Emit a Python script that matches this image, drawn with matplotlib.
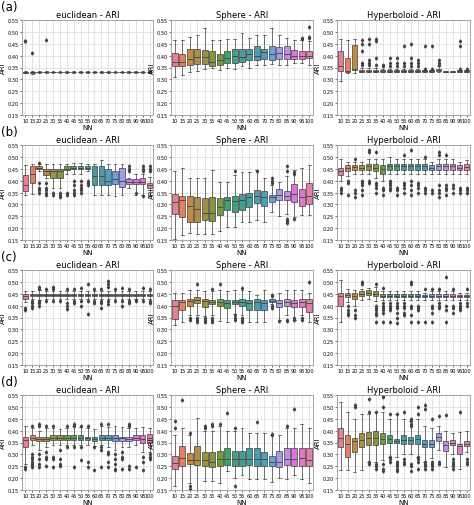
import matplotlib
matplotlib.use("Agg")
import matplotlib.pyplot as plt
import seaborn as sns

nn = [10, 15, 20, 25, 30, 35, 40, 45, 50, 55, 60, 65, 70, 75, 80, 85, 90, 95, 100]
row_labels = ["(a)", "(b)", "(c)", "(d)"]
col_titles = ["euclidean - ARI", "Sphere - ARI", "Hyperboloid - ARI"]

# ---- row (a)
a_euc_q1 = [.327, .327, .329, .329, .329, .329, .329, .329, .329, .329, .329, .329, .329, .329, .329, .329, .329, .329, .329]
a_euc_med = [.330, .330, .331, .331, .331, .331, .331, .331, .331, .331, .331, .331, .331, .331, .331, .331, .331, .331, .331]
a_euc_q3 = [.332, .332, .333, .333, .333, .333, .333, .333, .333, .333, .333, .333, .333, .333, .333, .333, .333, .333, .333]
a_euc_lo = [.325, .322, .327, .327, .327, .327, .327, .327, .327, .327, .327, .327, .327, .327, .327, .327, .327, .327, .327]
a_euc_hi = [.334, .334, .336, .335, .335, .335, .335, .335, .335, .335, .335, .335, .335, .335, .335, .335, .335, .335, .335]
a_euc_fl = {0: [.46, .462], 1: [.41], 3: [.465]}

a_sph_q1 = [.355, .355, .36, .365, .365, .355, .36, .37, .37, .375, .38, .38, .385, .38, .385, .385, .385, .385, .39]
a_sph_med = [.375, .375, .385, .395, .395, .375, .38, .39, .40, .395, .405, .40, .415, .405, .41, .405, .40, .40, .40]
a_sph_q3 = [.41, .405, .43, .43, .425, .42, .405, .42, .43, .43, .43, .44, .43, .44, .435, .44, .425, .42, .42]
a_sph_lo = [.31, .32, .33, .335, .345, .35, .34, .35, .345, .355, .35, .36, .36, .365, .36, .36, .37, .37, .36]
a_sph_hi = [.465, .465, .48, .485, .515, .465, .465, .47, .47, .495, .475, .485, .485, .515, .485, .475, .465, .465, .46]
a_sph_fl = {17: [.47, .475], 18: [.475, .48, .52]}

a_hyp_q1 = [.335, .33, .34, .333, .333, .333, .333, .333, .333, .333, .333, .333, .333, .333, .335, .332, .332, .333, .333]
a_hyp_med = [.355, .335, .345, .335, .335, .335, .335, .335, .335, .335, .335, .335, .335, .335, .338, .333, .333, .335, .335]
a_hyp_q3 = [.42, .39, .445, .34, .34, .34, .34, .34, .34, .34, .34, .34, .34, .34, .345, .334, .334, .338, .338]
a_hyp_lo = [.295, .325, .325, .33, .33, .33, .33, .33, .33, .33, .33, .33, .33, .33, .33, .33, .33, .33, .33]
a_hyp_hi = [.47, .465, .47, .35, .35, .35, .345, .345, .345, .345, .345, .345, .34, .34, .355, .336, .336, .34, .34]
a_hyp_fl = {3: [.36, .37, .42, .45, .465], 4: [.36, .37, .38, .45, .47], 5: [.36, .39, .46, .47],
            6: [.355, .36], 7: [.355, .37, .39], 8: [.355, .37, .39], 9: [.355, .37, .44],
            10: [.355, .37, .39, .45], 11: [.355, .37, .38], 12: [.345, .44], 13: [.345, .44],
            14: [.36, .37, .38], 17: [.345, .44, .46], 18: [.342]}

# ---- row (b)
b_euc_q1 = [.355, .39, .45, .425, .41, .41, .445, .45, .45, .45, .38, .38, .38, .385, .375, .385, .385, .385, .37]
b_euc_med = [.38, .43, .455, .44, .44, .44, .45, .455, .455, .455, .42, .42, .40, .405, .40, .395, .395, .395, .38]
b_euc_q3 = [.425, .46, .46, .45, .45, .45, .46, .46, .46, .46, .46, .46, .45, .44, .455, .405, .405, .41, .39]
b_euc_lo = [.34, .345, .44, .41, .37, .37, .43, .43, .43, .44, .34, .34, .34, .335, .34, .37, .34, .34, .335]
b_euc_hi = [.465, .47, .47, .47, .47, .47, .47, .475, .475, .47, .47, .485, .47, .47, .47, .41, .43, .43, .415]
b_euc_fl = {2: [.39, .37, .36, .35, .475], 3: [.39, .37, .36, .35, .34], 4: [.35, .34], 5: [.35, .34, .33],
            6: [.35, .34], 7: [.40, .38, .36, .35, .34], 8: [.40, .38, .37, .36, .35], 9: [.40, .39, .38],
            15: [.44, .45, .46], 16: [.35], 17: [.44, .45, .46, .335], 18: [.44, .45, .46]}

b_sph_q1 = [.26, .245, .225, .225, .235, .23, .255, .275, .27, .275, .29, .305, .295, .31, .32, .32, .31, .295, .30]
b_sph_med = [.31, .32, .295, .28, .265, .265, .29, .32, .315, .32, .33, .335, .33, .33, .34, .335, .345, .33, .335]
b_sph_q3 = [.345, .335, .335, .33, .325, .33, .325, .33, .335, .345, .35, .36, .355, .34, .365, .355, .385, .365, .39]
b_sph_lo = [.155, .17, .18, .175, .175, .175, .19, .205, .205, .225, .225, .235, .225, .27, .25, .26, .245, .255, .255]
b_sph_hi = [.44, .455, .41, .41, .41, .445, .395, .395, .425, .435, .435, .445, .41, .38, .395, .42, .445, .455, .465]
b_sph_fl = {8: [.44], 11: [.44], 13: [.39, .40, .41], 15: [.22, .23, .24, .44, .46], 16: [.24, .43, .435]}

b_hyp_q1 = [.425, .44, .445, .445, .445, .44, .43, .445, .445, .445, .445, .445, .445, .445, .445, .445, .445, .445, .445]
b_hyp_med = [.44, .455, .458, .455, .46, .455, .45, .46, .46, .46, .462, .46, .46, .455, .46, .46, .46, .455, .458]
b_hyp_q3 = [.455, .465, .465, .465, .47, .47, .465, .47, .47, .47, .47, .47, .47, .465, .47, .47, .47, .465, .468]
b_hyp_lo = [.40, .42, .43, .43, .43, .41, .40, .43, .43, .43, .43, .43, .43, .43, .43, .43, .43, .43, .43]
b_hyp_hi = [.49, .48, .48, .48, .49, .49, .49, .50, .49, .49, .49, .49, .49, .48, .49, .49, .49, .48, .485]
b_hyp_fl = {0: [.35, .36, .37], 1: [.34, .39, .40], 2: [.33, .35, .36, .49], 3: [.34, .36, .38, .39, .40],
            4: [.39, .40, .52, .53], 5: [.35, .37, .38, .39, .52], 6: [.34, .36, .37],
            7: [.36, .37, .38, .39, .40], 8: [.34, .36, .37], 9: [.35, .37, .38, .39, .51],
            10: [.34, .36, .38, .40, .53], 11: [.35, .37, .38, .39], 12: [.35, .36, .37, .50],
            13: [.35, .36], 14: [.33, .35, .36, .38, .51, .52], 15: [.34, .36, .37, .38, .51],
            16: [.35, .37, .38], 17: [.35, .36, .37], 18: [.35, .36, .37]}

# ---- row (c)
c_euc_q1 = [.43, .44, .44, .44, .44, .44, .44, .44, .44, .44, .44, .44, .44, .44, .44, .44, .44, .44, .44]
c_euc_med = [.44, .445, .445, .445, .445, .445, .445, .445, .445, .445, .445, .445, .445, .445, .445, .445, .445, .445, .445]
c_euc_q3 = [.45, .45, .45, .45, .45, .45, .45, .45, .45, .45, .45, .45, .45, .45, .45, .45, .45, .45, .45]
c_euc_lo = [.415, .43, .425, .43, .43, .43, .43, .43, .43, .43, .43, .43, .43, .43, .43, .43, .43, .43, .43]
c_euc_hi = [.46, .46, .465, .46, .46, .46, .46, .46, .46, .46, .46, .46, .46, .46, .46, .46, .46, .46, .46]
c_euc_fl = {0: [.38, .385, .39], 1: [.39, .40, .41, .42], 2: [.40, .41, .42, .47, .48], 3: [.42, .47],
            4: [.42, .47, .48], 5: [.42], 6: [.385, .40, .41, .47], 7: [.41, .42, .47],
            8: [.40, .42, .475], 9: [.365, .42, .49], 10: [.41, .42, .47], 11: [.39, .41, .42, .47],
            12: [.405, .42, .48, .49, .505], 13: [.42, .47], 14: [.40, .42, .475], 15: [.41, .42, .47],
            16: [.42, .425], 17: [.42, .475], 18: [.41, .42, .47]}

c_sph_q1 = [.345, .38, .40, .41, .395, .405, .40, .39, .405, .40, .38, .38, .38, .415, .395, .40, .395, .395, .375]
c_sph_med = [.40, .415, .42, .425, .42, .415, .415, .41, .415, .415, .41, .415, .41, .42, .41, .415, .41, .415, .41]
c_sph_q3 = [.425, .425, .43, .435, .43, .425, .43, .425, .425, .43, .425, .43, .425, .43, .425, .43, .425, .43, .43]
c_sph_lo = [.32, .33, .36, .36, .355, .36, .335, .33, .365, .36, .33, .33, .33, .405, .34, .36, .34, .36, .33]
c_sph_hi = [.455, .455, .465, .465, .46, .46, .465, .46, .465, .465, .46, .445, .465, .43, .455, .465, .465, .465, .455]
c_sph_fl = {2: [.35, .34], 3: [.35, .34, .33, .49], 4: [.35, .34, .33], 5: [.35, .34, .33, .47],
            6: [.49], 8: [.36, .35, .34], 9: [.35, .34, .33, .475], 13: [.39, .40, .44, .445],
            14: [.335], 15: [.34, .335], 16: [.35, .34], 17: [.35, .34], 18: [.50]}

c_hyp_q1 = [.40, .435, .43, .44, .445, .44, .435, .435, .435, .435, .435, .435, .435, .435, .435, .435, .435, .435, .435]
c_hyp_med = [.44, .445, .44, .45, .455, .45, .44, .44, .44, .44, .44, .44, .44, .44, .44, .44, .44, .44, .44]
c_hyp_q3 = [.455, .455, .455, .46, .465, .46, .45, .45, .45, .45, .45, .45, .445, .45, .45, .45, .45, .445, .445]
c_hyp_lo = [.33, .415, .40, .425, .43, .42, .425, .425, .425, .425, .425, .425, .425, .425, .425, .425, .425, .425, .425]
c_hyp_hi = [.51, .47, .465, .47, .475, .48, .46, .46, .46, .46, .46, .46, .455, .46, .46, .46, .46, .455, .455]
c_hyp_fl = {1: [.36, .37, .38, .40], 2: [.35, .36, .38], 3: [.49, .50], 5: [.33, .36, .37, .38, .39, .40, .49],
            6: [.33, .37, .38, .39, .40, .41, .475], 7: [.33, .38, .39, .40, .41],
            8: [.325, .35, .37, .39, .40, .41], 9: [.36, .37, .39, .40, .41], 10: [.33, .36, .39, .40, .49, .50],
            11: [.33, .38, .39, .40], 12: [.33, .47], 13: [.33, .37, .39, .40, .47],
            14: [.39, .40, .41, .47], 15: [.33, .38, .40, .52], 16: [.37, .39, .40, .47],
            17: [.38, .39, .40, .41], 18: [.40, .41, .47]}

# ---- row (d)
d_euc_q1 = [.33, .36, .355, .355, .36, .36, .36, .36, .36, .36, .355, .36, .36, .355, .355, .355, .36, .35, .35]
d_euc_med = [.36, .37, .365, .365, .37, .37, .37, .37, .37, .37, .365, .37, .37, .37, .37, .365, .37, .365, .37]
d_euc_q3 = [.375, .38, .375, .375, .38, .38, .38, .38, .38, .375, .375, .38, .38, .38, .375, .375, .38, .38, .385]
d_euc_lo = [.26, .34, .32, .33, .34, .34, .34, .34, .34, .34, .335, .34, .33, .32, .33, .33, .34, .31, .31]
d_euc_hi = [.42, .41, .40, .41, .41, .405, .41, .42, .415, .41, .405, .42, .415, .42, .415, .41, .41, .415, .41]
d_euc_fl = {0: [.24, .245], 1: [.245, .25, .26, .27, .28, .29, .30, .42], 2: [.245, .26, .28, .30, .42, .43],
            3: [.25, .28, .29, .31, .42], 4: [.245, .28, .29, .42], 5: [.25, .26, .28, .32],
            6: [.33, .42], 7: [.245, .33, .42, .43], 8: [.275, .33, .42], 9: [.245, .27, .42],
            10: [.235, .33], 11: [.245, .32, .33, .43], 12: [.245, .27, .30, .31, .43],
            13: [.235, .24, .26, .28, .30], 14: [.24, .28, .29, .31], 15: [.24, .25, .42, .43],
            16: [.245], 17: [.235, .27, .29], 18: [.28, .29, .30]}

d_sph_q1 = [.24, .25, .26, .255, .25, .245, .25, .255, .25, .25, .255, .25, .25, .25, .245, .255, .25, .25, .25]
d_sph_med = [.265, .285, .275, .275, .275, .27, .28, .28, .28, .28, .28, .28, .28, .27, .27, .28, .28, .285, .275]
d_sph_q3 = [.295, .335, .305, .335, .31, .31, .315, .325, .315, .315, .325, .325, .31, .295, .315, .325, .325, .325, .325]
d_sph_lo = [.165, .15, .18, .15, .19, .19, .18, .23, .20, .215, .195, .195, .195, .185, .20, .195, .215, .195, .18]
d_sph_hi = [.38, .41, .38, .455, .40, .40, .42, .40, .40, .41, .39, .39, .39, .38, .38, .41, .41, .43, .41]
d_sph_fl = {0: [.41, .44], 1: [.53], 2: [.39, .165, .155], 4: [.41, .42], 5: [.42, .43], 6: [.43],
            7: [.475], 8: [.165, .41], 11: [.435], 13: [.38, .385], 15: [.42], 16: [.49]}

d_hyp_q1 = [.33, .29, .31, .33, .34, .34, .345, .35, .35, .345, .345, .345, .33, .33, .355, .315, .34, .30, .335]
d_hyp_med = [.37, .345, .355, .36, .37, .37, .365, .365, .355, .36, .36, .365, .345, .345, .375, .34, .35, .335, .345]
d_hyp_q3 = [.41, .38, .37, .39, .395, .40, .39, .38, .365, .38, .375, .38, .36, .36, .39, .355, .36, .345, .355]
d_hyp_lo = [.235, .235, .225, .235, .27, .27, .275, .29, .29, .30, .30, .29, .27, .285, .32, .245, .30, .24, .31]
d_hyp_hi = [.52, .48, .45, .47, .47, .48, .48, .45, .47, .45, .44, .45, .42, .41, .42, .40, .39, .395, .40]
d_hyp_fl = {2: [.50, .51], 4: [.26, .27, .48, .535], 5: [.24, .25, .26, .48], 6: [.23, .24, .26, .50, .54, .545],
            7: [.27, .28, .29, .47], 8: [.23, .24, .25, .26, .27, .47], 9: [.26, .27, .28, .48],
            10: [.23, .25, .26, .42, .43, .44, .45], 11: [.24, .27, .28, .29, .47, .50],
            12: [.24, .25, .26, .27, .49, .51], 13: [.24, .25, .26, .27, .45], 14: [.26, .27, .46],
            15: [.465], 16: [.24, .25, .26, .27, .28], 17: [.48], 18: [.26, .27, .28]}

panels = [
    [(a_euc_q1, a_euc_med, a_euc_q3, a_euc_lo, a_euc_hi, a_euc_fl),
     (a_sph_q1, a_sph_med, a_sph_q3, a_sph_lo, a_sph_hi, a_sph_fl),
     (a_hyp_q1, a_hyp_med, a_hyp_q3, a_hyp_lo, a_hyp_hi, a_hyp_fl)],
    [(b_euc_q1, b_euc_med, b_euc_q3, b_euc_lo, b_euc_hi, b_euc_fl),
     (b_sph_q1, b_sph_med, b_sph_q3, b_sph_lo, b_sph_hi, b_sph_fl),
     (b_hyp_q1, b_hyp_med, b_hyp_q3, b_hyp_lo, b_hyp_hi, b_hyp_fl)],
    [(c_euc_q1, c_euc_med, c_euc_q3, c_euc_lo, c_euc_hi, c_euc_fl),
     (c_sph_q1, c_sph_med, c_sph_q3, c_sph_lo, c_sph_hi, c_sph_fl),
     (c_hyp_q1, c_hyp_med, c_hyp_q3, c_hyp_lo, c_hyp_hi, c_hyp_fl)],
    [(d_euc_q1, d_euc_med, d_euc_q3, d_euc_lo, d_euc_hi, d_euc_fl),
     (d_sph_q1, d_sph_med, d_sph_q3, d_sph_lo, d_sph_hi, d_sph_fl),
     (d_hyp_q1, d_hyp_med, d_hyp_q3, d_hyp_lo, d_hyp_hi, d_hyp_fl)],
]

colors = sns.color_palette(sns.color_palette("husl", len(nn)), desat=0.75)
edge = "#404040"

W, H = 474, 506
fig = plt.figure(figsize=(W / 100, H / 100), dpi=100)
col_x = [22, 171, 337]
col_w = [131, 142, 133]
ax_h = 95

for r in range(4):
    top = 21 + r * 125
    fig.text(1 / W, 1 - (top - 20) / H, row_labels[r], fontsize=8.5, va="top", ha="left")
    for c in range(3):
        q1, med, q3, lo, hi, fl = panels[r][c]
        ax = fig.add_axes([col_x[c] / W, 1 - (top + ax_h) / H, col_w[c] / W, ax_h / H])
        stats = []
        for i in range(len(nn)):
            stats.append(dict(q1=q1[i], med=med[i], q3=q3[i], whislo=lo[i], whishi=hi[i],
                              fliers=fl.get(i, [])))
        bp = ax.bxp(stats, positions=range(len(nn)), widths=0.8, patch_artist=True,
                    boxprops=dict(edgecolor=edge, linewidth=0.5),
                    medianprops=dict(color=edge, linewidth=0.6),
                    whiskerprops=dict(color=edge, linewidth=0.5),
                    capprops=dict(color=edge, linewidth=0.5),
                    flierprops=dict(marker="d", markersize=1.6, markerfacecolor=edge,
                                    markeredgecolor=edge, linestyle="none"))
        for patch, col in zip(bp["boxes"], colors):
            patch.set_facecolor(col)
        ax.set_ylim(0.15, 0.55)
        ax.set_yticks([0.15, 0.20, 0.25, 0.30, 0.35, 0.40, 0.45, 0.50, 0.55])
        ax.set_yticklabels(["0.15", "0.20", "0.25", "0.30", "0.35", "0.40", "0.45", "0.50", "0.55"])
        ax.set_xticks(range(len(nn)))
        ax.set_xticklabels([str(v) for v in nn])
        ax.set_xlim(-0.5, len(nn) - 0.5)
        ax.tick_params(labelsize=3.6, length=1.2, width=0.4, pad=1)
        ax.grid(True, color="#d8d8d8", linewidth=0.5)
        ax.set_axisbelow(True)
        for s in ax.spines.values():
            s.set_color("#999999")
            s.set_linewidth(0.6)
        ax.set_title(col_titles[c], fontsize=6, pad=2)
        ax.set_ylabel("ARI", fontsize=5, labelpad=1)
        ax.set_xlabel("NN", fontsize=5, labelpad=0.5)

fig.savefig("out.png", dpi=100)
